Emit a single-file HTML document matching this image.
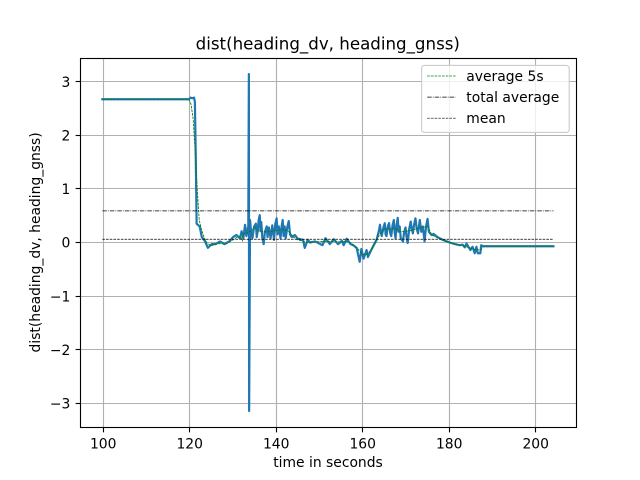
<!DOCTYPE html>
<html>
<head>
<meta charset="utf-8">
<title>dist(heading_dv, heading_gnss)</title>
<style>
html,body{margin:0;padding:0;background:#fff;}
svg{display:block;}
text{font-family:"DejaVu Sans","Liberation Sans",sans-serif;fill:#000;}
</style>
</head>
<body>
<svg id="chart" xmlns="http://www.w3.org/2000/svg" width="640" height="480" viewBox="0 0 640 480"></svg>
<script>
const xTickValues = [100, 120, 140, 160, 180, 200];
const yTickValues = [-3, -2, -1, 0, 1, 2, 3];
const chartTitle = "dist(heading_dv, heading_gnss)";
const xAxisLabel = "time in seconds";
const yAxisLabel = "dist(heading_dv, heading_gnss)";
const legendLabels = ["average 5s", "total average", "mean"];

const mainTimes = [
  99.8,110,119.8,120.2,120.6,121,121.2,121.4,121.6,122.3,
  122.8,123.5,124.2,125.1,126,127,128.1,129.3,130,130.8,
  131.6,132,132.4,132.8,133.1,133.55,133.68,133.74,133.95,134.2,
  134.5,134.9,135.3,135.5,135.7,135.95,136.2,136.35,136.55,136.8,
  137.1,137.4,137.8,138,138.3,138.7,139.1,139.5,139.8,140.1,
  140.3,140.6,141,141.25,141.5,141.7,141.95,142.2,142.55,142.9,
  143.2,143.6,144.3,145,146.2,146.6,147.3,147.8,149,150.7,
  151.4,152.4,153.3,154.3,155.2,155.6,156.3,157.2,157.8,158.6,
  159.3,159.7,160.2,160.9,161.2,162.1,163.2,163.7,164,164.2,
  164.4,164.8,165.1,165.3,165.5,165.8,166.1,166.35,166.6,166.9,
  167.2,167.4,167.6,167.85,168.1,168.3,168.55,168.8,169.3,169.6,
  169.9,170.15,170.4,170.75,171.1,171.35,171.6,171.9,172.2,172.5,
  172.8,173,173.2,173.55,173.9,174.3,174.65,175,175.3,175.9,
  176.4,177.3,178.5,180.1,181.3,182.4,183.1,183.6,184,184.9,
  185.4,185.9,186.3,186.6,187.2,187.4,187.8,204.1
];
const mainValues = [
  2.67,2.67,2.67,2.7,2.69,2.7,2.62,1.6,0.35,0.3,
  0.1,0.03,-0.1,-0.03,-0.03,0.02,-0.03,0.03,0.1,0.14,
  0.08,0.21,0.08,0.33,0.12,0.3,3.14,-3.14,0.42,0.2,
  0.08,0.3,0.35,0.1,0.2,0.42,0.51,0.22,0.38,0.08,
  -0.03,0.2,0.3,0.1,0.28,0.08,0.32,0.05,0.35,0.45,
  0.15,0.3,0.08,0.3,0.42,0.12,0.3,0.08,0.28,0.4,
  0.15,0.1,0.14,0.07,0.05,-0.1,0.05,0,0.02,-0.05,
  0.08,-0.03,0.06,-0.03,0.03,-0.05,0.07,-0.03,-0.05,-0.1,
  -0.36,-0.12,-0.3,-0.14,-0.27,-0.12,0.05,0.2,0.33,0.2,
  0.12,0.28,0.36,0.15,0.12,0.3,0.36,0.18,0.12,0.32,
  0.42,0.18,0.08,0.32,0.46,0.2,0.3,0.08,0.02,0.2,
  0.28,0.1,-0.01,0.25,0.39,0.25,0.17,0.34,0.45,0.25,
  0.17,0.3,0.42,0.2,0.3,0.02,0.3,0.44,0.2,0.14,
  0.16,0.1,0.05,0,-0.03,-0.05,-0.04,-0.09,-0.02,-0.14,
  -0.08,-0.2,-0.08,-0.2,-0.2,-0.05,-0.07,-0.07
];

const avgTimes = [
  99.8,110,119.8,120.3,120.8,121.2,121.7,122.2,122.7,123.3,
  124,125,126,127,128,129,130,131,131.9,132.2,
  132.3,133,134.3,135,136.2,138,140,141.5,143,144,
  145,147,149,151,153,155,156,157,158,159,
  160,161,162,163,164,165,167,169,171,173,
  175,176,177,178,180,182,184,186,187.2,188,
  204.1
];
const avgValues = [
  2.67,2.67,2.67,2.58,2.3,1.78,1.05,0.42,0.25,0.1,
  -0.01,-0.06,-0.03,-0.02,-0.03,0,0.05,0.1,0.1,0.02,
  0.16,0.17,0.22,0.28,0.2,0.2,0.22,0.25,0.2,0.1,
  0.05,0,0.01,0.02,0.02,0.01,0.02,0,-0.05,-0.13,
  -0.22,-0.22,-0.13,0.02,0.16,0.25,0.26,0.2,0.22,0.27,
  0.3,0.14,0.1,0.06,0,-0.04,-0.08,-0.13,-0.14,-0.07,
  -0.07
];

const totalAverageTimes = [99.8, 204.1];
const totalAverageValues = [0.59, 0.59];
const meanTimes = [99.8, 204.1];
const meanValues = [0.06, 0.06];

const NS = "http://www.w3.org/2000/svg";
const svg = document.getElementById("chart");
const plotLeft = 80.5, plotRight = 576.5, plotTop = 58.5, plotBottom = 427.5;

function xScale(t) { return 103.2 + (t - 100) * 4.325; }
function yScale(v) { return 242.5 - v * 53.65; }
function snap(p) { return Math.floor(p) + 0.5; }

function make(tag, attrs, parent) {
  const el = document.createElementNS(NS, tag);
  for (const k in attrs) el.setAttribute(k, attrs[k]);
  (parent || svg).appendChild(el);
  return el;
}
function pathFrom(times, values) {
  return times.map((t, i) => (i ? "L" : "M") + xScale(t).toFixed(2) + " " + yScale(values[i]).toFixed(2)).join(" ");
}
function fmt(v) { return v < 0 ? "\u2212" + Math.abs(v) : String(v); }

/* background */
const bg = make("rect", { x: 0, y: 0, width: 640, height: 480, fill: "#fff" });



/* grid */
xTickValues.forEach(v => {
  const g = make("line", { x1: snap(xScale(v)), x2: snap(xScale(v)), y1: plotTop, y2: plotBottom, stroke: "#b0b0b0", "stroke-width": 1.11 });
  
  
});
yTickValues.forEach(v => {
  const g = make("line", { x1: plotLeft, x2: plotRight, y1: snap(yScale(v)), y2: snap(yScale(v)), stroke: "#b0b0b0", "stroke-width": 1.11 });
  
  
});

/* series */
const mainLine = make("path", { d: pathFrom(mainTimes, mainValues), fill: "none", stroke: "#1f77b4", "stroke-width": 2.2, "stroke-linejoin": "round", "stroke-linecap": "square" });



const avgLine = make("path", { d: pathFrom(avgTimes, avgValues), fill: "none", stroke: "#008000", "stroke-width": 0.85, "stroke-dasharray": "2.6 1" });



const totalLine = make("path", { d: pathFrom(totalAverageTimes, totalAverageValues), fill: "none", stroke: "#000", "stroke-width": 0.7, "stroke-dasharray": "4.5 1.1 0.8 1.1" });



const meanLine = make("path", { d: pathFrom(meanTimes, meanValues), fill: "none", stroke: "#000", "stroke-width": 0.7, "stroke-dasharray": "2.6 1.1" });



/* spines */
const frame = make("rect", { x: plotLeft, y: plotTop, width: plotRight - plotLeft, height: plotBottom - plotTop, fill: "none", stroke: "#000", "stroke-width": 1.11 });



/* ticks and labels */
xTickValues.forEach(v => {
  const t = make("line", { x1: snap(xScale(v)), x2: snap(xScale(v)), y1: plotBottom, y2: plotBottom + 4.86, stroke: "#000", "stroke-width": 1.11 });
  
  
  const l = make("text", { x: xScale(v), y: 448.5, "text-anchor": "middle", "font-size": 13.89 });
  l.textContent = fmt(v);
  
  
});
yTickValues.forEach(v => {
  const t = make("line", { x1: plotLeft - 4.86, x2: plotLeft, y1: snap(yScale(v)), y2: snap(yScale(v)), stroke: "#000", "stroke-width": 1.11 });
  
  
  const l = make("text", { x: 70.3, y: yScale(v) + 5.2, "text-anchor": "end", "font-size": 13.89 });
  l.textContent = fmt(v);
  
  
});

/* titles */
const titleEl = make("text", { x: 327.8, y: 49.5, "text-anchor": "middle", "font-size": 16.67 });
titleEl.textContent = chartTitle;



const xTitle = make("text", { x: 328, y: 467, "text-anchor": "middle", "font-size": 13.89 });
xTitle.textContent = xAxisLabel;



const yTitle = make("text", { x: 0, y: 0, "text-anchor": "middle", "font-size": 13.89, transform: "translate(40 242.4) rotate(-90)" });
yTitle.textContent = yAxisLabel;



/* legend */
const legendBox = make("rect", { x: 421.6, y: 65.4, width: 147.6, height: 67, rx: 2.8, ry: 2.8, fill: "#fff", "fill-opacity": 0.8, stroke: "#ccc", "stroke-width": 1.11 });



const legendStyles = [
  { stroke: "#008000", dash: "2.6 1.1" },
  { stroke: "#000", dash: "4.5 1.1 0.8 1.1" },
  { stroke: "#000", dash: "2.6 1.1" }
];
legendLabels.forEach((label, i) => {
  const y = 76 + i * 21.1;
  const s = make("line", { x1: 427.2, x2: 455.6, y1: y, y2: y, stroke: legendStyles[i].stroke, "stroke-width": 0.7, "stroke-dasharray": legendStyles[i].dash });
  
  
  const t = make("text", { x: 466.3, y: y + 5, "font-size": 13.89 });
  t.textContent = label;
  
  
});
</script>
</body>
</html>
